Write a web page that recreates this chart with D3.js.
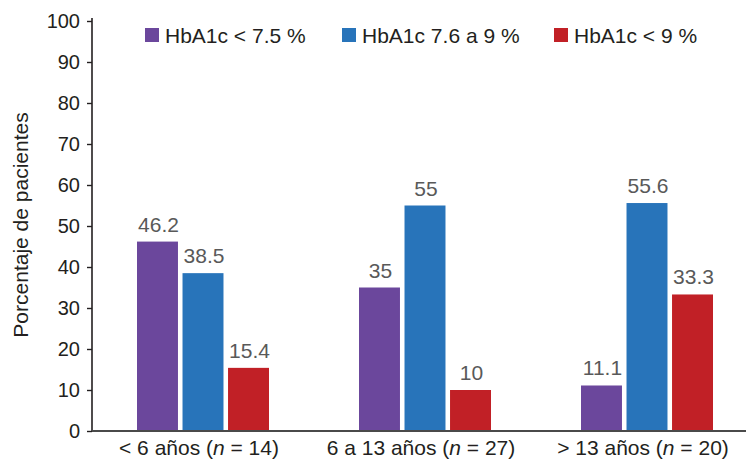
<!DOCTYPE html>
<html lang="es">
<head>
<meta charset="utf-8">
<style>
  body { margin: 0; background: #fff; }
  svg { font-family: "Liberation Sans", Arial, sans-serif; }
</style>
<script src="https://d3js.org/d3.v7.min.js"></script>
</head>
<body>
<svg width="746" height="460"></svg>
<script>
// data
var groups = ["< 6 años", "6 a 13 años", "> 13 años"];
var groupN = [14, 27, 20];
var seriesNames = ["HbA1c < 7.5 %", "HbA1c 7.6 a 9 %", "HbA1c < 9 %"];
var seriesColors = ["#6b479c", "#2874ba", "#c12026"];
var lowValues = [46.2, 35, 11.1];
var midValues = [38.5, 55, 55.6];
var highValues = [15.4, 10, 33.3];
var yTicks = [0, 10, 20, 30, 40, 50, 60, 70, 80, 90, 100];

var seriesValues = [lowValues, midValues, highValues];

var svg = d3.select("svg");
var plotLeft = 92, plotTop = 21, plotBottom = 431;

var x0 = d3.scaleBand().domain(groups).range([plotLeft, plotLeft + 666]);
var x1 = d3.scaleBand().domain(d3.range(3)).range([0, 132]).paddingInner(0.1);
var y = d3.scaleLinear().domain([0, 100]).range([plotBottom, plotTop]);

// y axis
var yAxis = svg.append("g")
    .attr("transform", "translate(" + plotLeft + ",0)")
    .call(d3.axisLeft(y).tickValues(yTicks).tickSize(5).tickPadding(7).tickSizeOuter(0));
yAxis.select(".domain").attr("stroke", "#231f20").attr("stroke-width", 1.6).attr("d", "M0," + (plotTop - 3) + "V" + plotBottom);
yAxis.selectAll(".tick line").attr("stroke", "#231f20").attr("stroke-width", 1.4);
yAxis.selectAll(".tick text").attr("fill", "#231f20").style("font-size", "20px");

// bars
var g = svg.append("g").selectAll("g")
    .data(groups)
    .enter().append("g")
    .attr("transform", function(d) { return "translate(" + (x0(d) + (x0.bandwidth() - 132) / 2) + ",0)"; });

g.selectAll("rect")
    .data(function(d, i) { return seriesValues.map(function(s, k) { return { k: k, v: s[i] }; }); })
    .enter().append("rect")
    .attr("x", function(d) { return x1(d.k); })
    .attr("y", function(d) { return y(d.v); })
    .attr("width", x1.bandwidth())
    .attr("height", function(d) { return plotBottom - y(d.v); })
    .attr("fill", function(d) { return seriesColors[d.k]; });

g.selectAll("text")
    .data(function(d, i) { return seriesValues.map(function(s, k) { return { k: k, v: s[i] }; }); })
    .enter().append("text")
    .attr("x", function(d) { return x1(d.k) + x1.bandwidth() / 2 + 1; })
    .attr("y", function(d) { return y(d.v) - 10; })
    .attr("text-anchor", "middle")
    .attr("fill", "#595959")
    .style("font-size", "21px")
    .text(function(d) { return d.v; });

// x axis line
svg.append("line")
    .attr("x1", plotLeft).attr("x2", 746)
    .attr("y1", plotBottom).attr("y2", plotBottom)
    .attr("stroke", "#4a4a4a").attr("stroke-width", 2);

// x labels
var xl = svg.append("g").selectAll("text")
    .data(groups)
    .enter().append("text")
    .attr("x", function(d) { return x0(d) + x0.bandwidth() / 2 - 4; })
    .attr("y", 455)
    .attr("text-anchor", "middle")
    .attr("fill", "#231f20")
    .style("font-size", "21px");
xl.append("tspan").text(function(d) { return d + " ("; });
xl.append("tspan").style("font-style", "italic").text("n");
xl.append("tspan").text(function(d, i) { return " = " + groupN[i] + ")"; });

// y title
svg.append("text")
    .attr("transform", "translate(28,225) rotate(-90)")
    .attr("text-anchor", "middle")
    .attr("fill", "#231f20")
    .style("font-size", "21px")
    .text("Porcentaje de pacientes");

// legend
var legendX = [145, 342, 554];
var lg = svg.append("g").selectAll("g")
    .data(seriesNames)
    .enter().append("g")
    .attr("transform", function(d, i) { return "translate(" + legendX[i] + ",28)"; });
lg.append("rect").attr("width", 14).attr("height", 14)
    .attr("fill", function(d, i) { return seriesColors[i]; });
lg.append("text").attr("x", 20).attr("y", 15)
    .attr("fill", "#231f20")
    .style("font-size", "21px")
    .text(function(d) { return d; });
</script>
</body>
</html>
